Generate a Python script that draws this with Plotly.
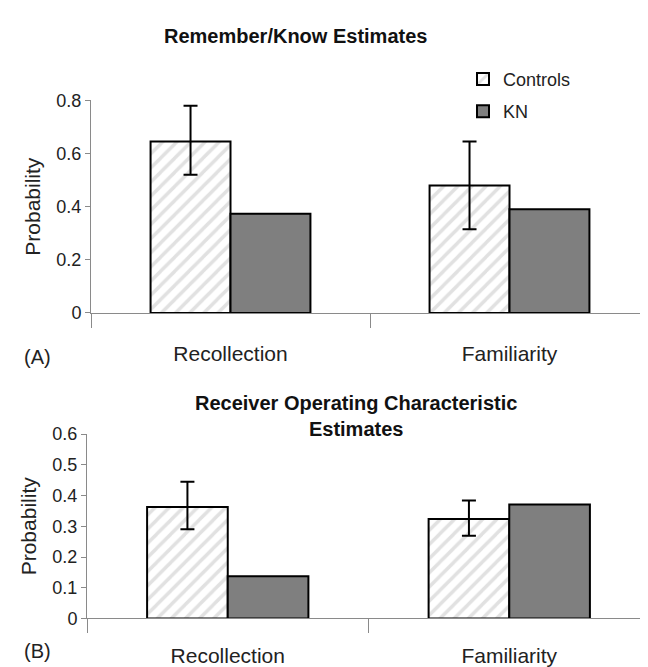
import plotly.graph_objects as go

# ---------------- data ----------------
categories = ["Recollection", "Familiarity"]

# Panel A: Remember/Know estimates
rk_controls = [0.645, 0.48]
rk_controls_err_plus = [0.135, 0.165]
rk_controls_err_minus = [0.125, 0.165]
rk_kn = [0.373, 0.39]

# Panel B: ROC estimates
roc_controls = [0.363, 0.324]
roc_controls_err_plus = [0.082, 0.06]
roc_controls_err_minus = [0.073, 0.055]
roc_kn = [0.137, 0.371]

series_names = ["Controls", "KN"]
panel_titles = ["Remember/Know Estimates", "Receiver Operating Characteristic<br>Estimates"]
panel_labels = ["(A)", "(B)"]

# ---------------- style ----------------
W, H = 648, 667
FONT = "Liberation Sans, Arial, Helvetica, sans-serif"
AXC = "#8a8a8a"

def py(px):  # pixel row -> paper y
    return 1 - px / H

def pxx(px):
    return px / W

controls_marker = dict(
    color="white",
    line=dict(color="black", width=2),
    pattern=dict(shape="/", fgcolor="#c4c4c4", bgcolor="white", size=10, solidity=0.35),
)
kn_marker = dict(color="#7f7f7f", line=dict(color="black", width=2))
err_style = dict(type="data", symmetric=False, color="black", thickness=2, width=7)

fig = go.Figure()

# Panel A
fig.add_trace(go.Bar(
    x=categories, y=rk_controls, name=series_names[0], marker=controls_marker,
    error_y=dict(array=rk_controls_err_plus, arrayminus=rk_controls_err_minus, **err_style),
    xaxis="x", yaxis="y", legendgroup="c", showlegend=True,
))
fig.add_trace(go.Bar(
    x=categories, y=rk_kn, name=series_names[1], marker=kn_marker,
    xaxis="x", yaxis="y", legendgroup="k", showlegend=True,
))
# Panel B
fig.add_trace(go.Bar(
    x=categories, y=roc_controls, name=series_names[0], marker=controls_marker,
    error_y=dict(array=roc_controls_err_plus, arrayminus=roc_controls_err_minus, **err_style),
    xaxis="x2", yaxis="y2", legendgroup="c", showlegend=False,
))
fig.add_trace(go.Bar(
    x=categories, y=roc_kn, name=series_names[1], marker=kn_marker,
    xaxis="x2", yaxis="y2", legendgroup="k", showlegend=False,
))

common_x = dict(
    type="category", categoryorder="array", categoryarray=categories,
    showline=True, linecolor=AXC, linewidth=1,
    ticks="outside", tickson="boundaries", ticklen=14, tickcolor=AXC, tickwidth=1,
    tickfont=dict(family=FONT, size=21, color="#222"),
    showgrid=False, zeroline=False, fixedrange=True,
)
common_y = dict(
    showline=True, linecolor=AXC, linewidth=1,
    ticks="outside", ticklen=5, tickcolor=AXC, tickwidth=1,
    tickfont=dict(family=FONT, size=18, color="#222"),
    showgrid=False, zeroline=False, fixedrange=True,
    title=dict(text="Probability", font=dict(family=FONT, size=21, color="#222"), standoff=10),
)

fig.update_layout(
    width=W, height=H,
    margin=dict(l=0, r=0, t=0, b=0),
    paper_bgcolor="white", plot_bgcolor="white",
    barmode="group", bargap=0.427, bargroupgap=0,
    font=dict(family=FONT, color="#222"),
    xaxis=dict(domain=[pxx(83), pxx(641)], range=[-0.5, 1.5], anchor="y",
               ticklabelstandoff=22, **common_x),
    yaxis=dict(domain=[py(304), py(85)], range=[0, 0.8], dtick=0.2, anchor="x", **common_y),
    xaxis2=dict(domain=[pxx(79), 1.0], range=[-0.5, 1.5 + 6 / 282], anchor="y2",
                ticklabelstandoff=18, **common_x),
    yaxis2=dict(domain=[py(619), py(429)], range=[0, 0.6], dtick=0.1, anchor="x2", **common_y),
    legend=dict(
        x=pxx(455), y=py(44), xanchor="left", yanchor="top",
        font=dict(family=FONT, size=18, color="#222"),
        bgcolor="rgba(0,0,0,0)", tracegroupgap=6, itemwidth=30,
    ),
    showlegend=True,
)

fig.add_annotation(text="<b>" + panel_titles[0] + "</b>", xref="paper", yref="paper",
                   x=pxx(287), y=py(19), xanchor="center", yanchor="middle", showarrow=False,
                   font=dict(family=FONT, size=20, color="#111"))
fig.add_annotation(text="<b>" + panel_titles[1] + "</b>", xref="paper", yref="paper",
                   x=pxx(348), y=py(410), xanchor="center", yanchor="middle", showarrow=False,
                   font=dict(family=FONT, size=20, color="#111"))
fig.add_annotation(text=panel_labels[0], xref="paper", yref="paper",
                   x=pxx(29), y=py(349), xanchor="center", yanchor="middle", showarrow=False,
                   font=dict(family=FONT, size=20, color="#222"))
fig.add_annotation(text=panel_labels[1], xref="paper", yref="paper",
                   x=pxx(29), y=py(653), xanchor="center", yanchor="middle", showarrow=False,
                   font=dict(family=FONT, size=20, color="#222"))

fig.write_html("out.html")
